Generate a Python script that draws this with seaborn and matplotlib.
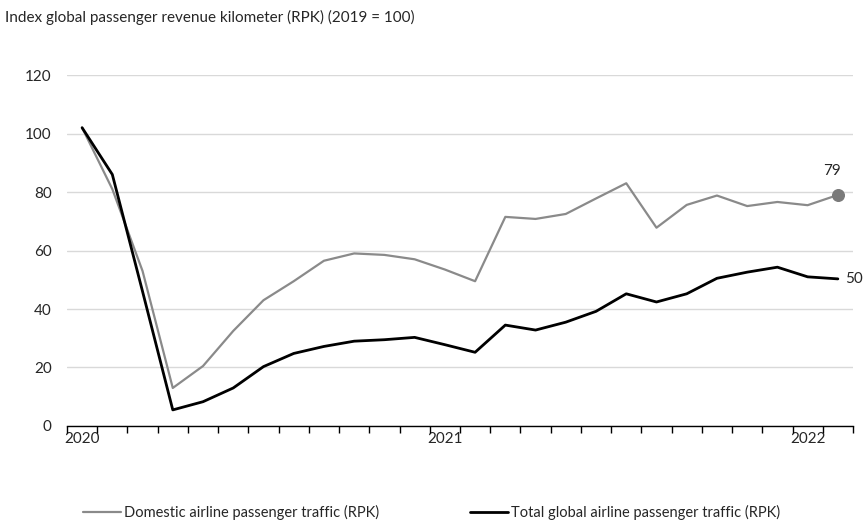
import matplotlib
matplotlib.use("Agg")
import matplotlib.pyplot as plt
import numpy as np
import pandas as pd
import seaborn as sns

# monthly values, Jan 2020 .. Feb 2022 (index, 2019 = 100)
months = pd.date_range("2020-01-01", "2022-02-01", freq="MS")
domestic = [102, 81, 53, 13, 20.5, 32.5, 43, 49.5, 56.5, 59, 58.5, 57, 53.5, 49.5,
            71.5, 70.8, 72.5, 77.8, 83, 67.8, 75.6, 78.8, 75.2, 76.6, 75.5, 79]
total = [102, 86, 46, 5.5, 8.3, 13, 20.3, 24.8, 27.2, 29, 29.5, 30.3, 27.8, 25.2,
         34.5, 32.8, 35.5, 39.2, 45.2, 42.4, 45.2, 50.5, 52.6, 54.3, 51, 50.3]
year_labels = ["2020", "2021", "2022"]

name_dom = "Domestic airline passenger traffic (RPK)"
name_tot = "Total global airline passenger traffic (RPK)"

df = pd.DataFrame({
    "pos": np.tile(np.arange(len(months)), 2),
    "value": domestic + total,
    "series": [name_dom] * len(months) + [name_tot] * len(months),
})

sns.set_style("white")
plt.rcParams["font.family"] = ["Lato", "DejaVu Sans"]

fig = plt.figure(figsize=(8.63, 5.23), dpi=100)
ax = fig.add_axes([0.0776, 0.1855, 0.9108, 0.671])

sns.lineplot(data=df, x="pos", y="value", hue="series",
             palette={name_dom: "#8a8a8a", name_tot: "#000000"},
             ax=ax, legend=False)
for line, lw in zip(ax.get_lines(), [1.6, 2.0]):
    line.set_linewidth(lw)

# end-point annotations
n = len(months) - 1
ax.scatter([n], [domestic[-1]], s=70, color="#7a7a7a", zorder=5)
ax.annotate(f"{domestic[-1]:.0f}", (n, domestic[-1]), xytext=(-4, 12),
            textcoords="offset points", ha="center", va="bottom", fontsize=11)
ax.annotate(f"{total[-1]:.0f}", (n, total[-1]), xytext=(5, 0),
            textcoords="offset points", ha="left", va="center", fontsize=11,
            annotation_clip=False)

ax.set_xlim(-0.5, len(months) - 0.5)
ax.set_ylim(0, 120)
ax.set_yticks(range(0, 121, 20))
ax.set_xticks([0, 12, 24])
ax.set_xticklabels(year_labels)
ax.set_xticks(np.arange(-0.5, len(months), 1), minor=True)
ax.tick_params(axis="x", which="major", bottom=True, length=0, pad=4, labelsize=11)
ax.tick_params(axis="x", which="minor", bottom=True, length=5, width=1,
               color="black", direction="out")
ax.tick_params(axis="y", left=False, length=0, pad=11, labelsize=11)
ax.set_xlabel("")
ax.set_ylabel("")

ax.grid(axis="y", color="#d9d9d9", linewidth=1)
ax.set_axisbelow(True)
for side in ["left", "right", "top"]:
    ax.spines[side].set_visible(False)
ax.spines["bottom"].set_color("black")
ax.spines["bottom"].set_linewidth(1)

fig.text(0.006, 0.967, "Index global passenger revenue kilometer (RPK) (2019 = 100)",
         ha="left", va="center", fontsize=11)

handles = [plt.Line2D([], [], color="#8a8a8a", lw=1.6),
           plt.Line2D([], [], color="#000000", lw=2.0)]
fig.legend(handles, [name_dom, name_tot], loc="lower center",
           bbox_to_anchor=(0.5, -0.02), ncol=2, frameon=False, fontsize=10.5,
           handlelength=2.6, handletextpad=0.2, columnspacing=6.2)

fig.savefig("out.png", dpi=100)
